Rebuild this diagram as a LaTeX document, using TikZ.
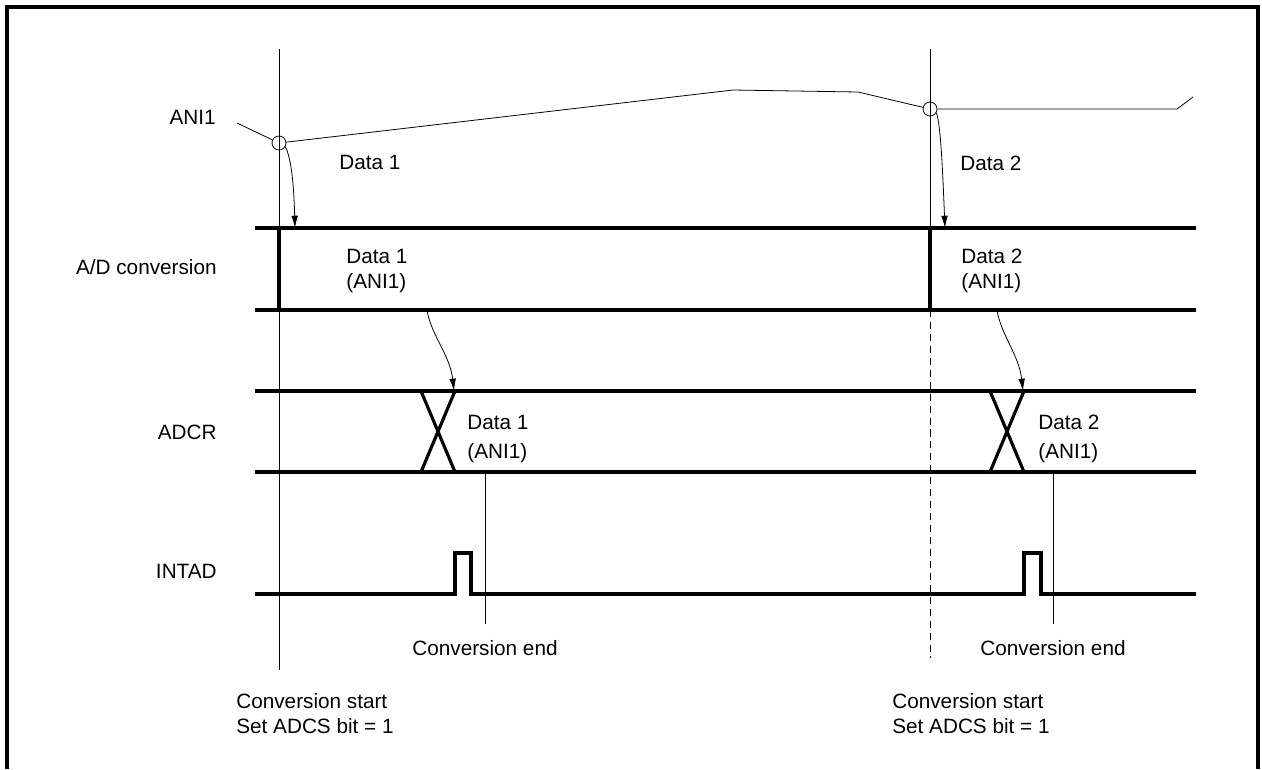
\documentclass[tikz,border=0pt]{standalone}
\usepackage{fontspec}
\setmainfont{Liberation Sans}
\usepackage{tikz}
\usetikzlibrary{positioning,arrows.meta}

\begin{document}
\begin{tikzpicture}[x=0.02cm,y=-0.02cm,
      font=\fontsize{11.8}{14.2}\selectfont,
      hair/.style={line width=0.45pt},
      wave/.style={line width=1.8pt},
      signame/.style={anchor=east,inner sep=0pt},
      txt/.style={anchor=west,align=left,inner sep=0pt},
      sample/.style={draw,circle,hair,minimum size=0.28cm,inner sep=0pt},
      flow/.style={hair,-{Latex[length=7pt,width=3.8pt]}}]
    \useasboundingbox (0,0) rectangle (1262,769);
    \draw[line width=1.8pt] (7,769) -- (7,7) -- (1258,7) -- (1258,769);
    \node[signame] (ani) at (216,117) {ANI1};
    \node[signame] (adc) at (217,267) {A/D conversion};
    \node[signame] (adcr) at (217,432) {ADCR};
    \node[signame] (intad) at (217,571) {INTAD};
    \draw[hair] (279,49) -- (279,670);
    \draw[hair] (930,49) -- (930,310);
    \draw[hair,dash pattern=on 4pt off 2.8pt] (930,310) -- (930,658);
    \draw[wave] (255,228) -- (1196,228) (255,310) -- (1196,310);
    \draw[wave] (279,228) -- (279,310) (930,228) -- (930,310);
    \draw[wave] (255,391) -- (1196,391) (255,472) -- (1196,472);
    \foreach \x in {421,990}{\draw[wave] (\x,391) -- ++(34,81) (\x+34,391) -- (\x,472);}
    \draw[wave] (255,594) -| (455,553) -| (471,594) -| (1024,553) -| (1041,594) -- (1196,594);
    \node[sample] (s1) at (279,143) {};
    \node[sample] (s2) at (930,109) {};
    \coordinate (a0) at (237,123);
    \draw[hair] (a0) -- (s1) -- (733,90) -- (858,92) -- (s2) -- (1177,109) -- (1193,97);
    \node[txt] (in1) at (339,162) {Data 1};
    \node[txt] (in2) at (960,163) {Data 2};
    \node[txt] (conv1) at (346,271) {Data 1\\(ANI1)};
    \node[txt] (conv2) at (961,271) {Data 2\\(ANI1)};
    \node[txt] (reg1) at (467,439) {Data 1\\[2pt](ANI1)};
    \node[txt] (reg2) at (1038,439) {Data 2\\[2pt](ANI1)};
    \coordinate (e1) at (295,228);
    \coordinate (e2) at (945,228);
    \coordinate (f1) at (427,310);
    \coordinate (f2) at (997,310);
    \coordinate (g1) at (454,391);
    \coordinate (g2) at (1023,391);
    \draw[flow] (s1.-30) .. controls (292,160) and (294,190) .. (e1);
    \draw[flow] (s2.-30) .. controls (941,125) and (943,180) .. (e2);
    \draw[flow] (f1) .. controls (431,335) and (450,355) .. (g1);
    \draw[flow] (f2) .. controls (1001,335) and (1019,355) .. (g2);
    \foreach \x/\n in {485/1,1053/2}{
      \draw[hair] (\x,472) -- (\x,624);
      \node (end\n) at (\x,648) {Conversion end};
    }
    \foreach \x/\n in {236/1,892/2}{\node[txt] (start\n) at (\x,714) {Conversion start\\Set ADCS bit = 1};}
  \end{tikzpicture}
\end{document}
